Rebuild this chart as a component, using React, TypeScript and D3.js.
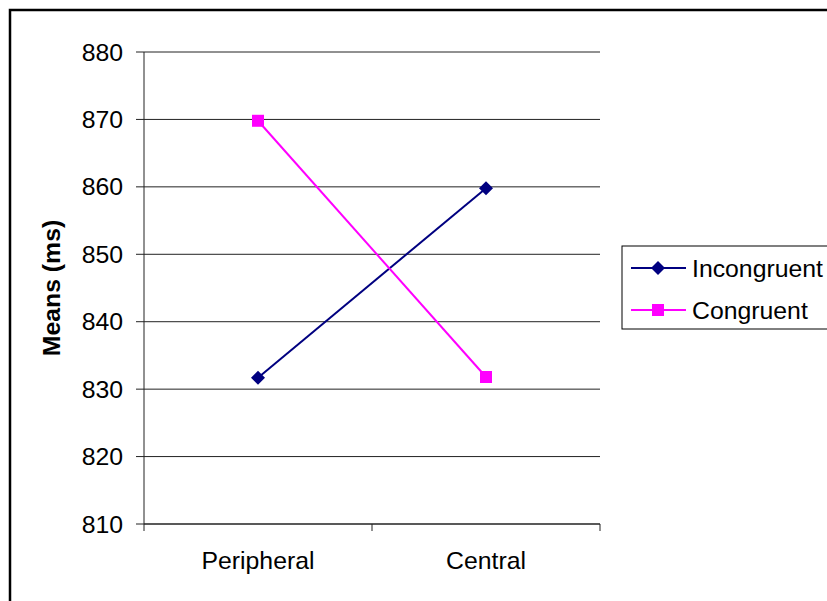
import React from "react";
import * as d3 from "d3";

const categories = ["Peripheral", "Central"];
const incongruent = [831.7, 859.8];
const congruent = [869.8, 831.8];
const yTicks = [810, 820, 830, 840, 850, 860, 870, 880];
const seriesNames = ["Incongruent", "Congruent"];

export default function App() {
  const W = 827, H = 601;
  const left = 144, right = 600, top = 52, bottom = 524;
  const x = d3.scaleBand<string>().domain(categories).range([left, right]);
  const y = d3.scaleLinear().domain([810, 880]).range([bottom, top]);
  const cx = (c: string) => (x(c) as number) + x.bandwidth() / 2;
  const line = d3.line<number>().x((_, i) => cx(categories[i])).y((v) => y(v));
  const font = "Liberation Sans, Arial, sans-serif";
  const fs = 24.8;
  const diamond = (px: number, py: number, r: number) =>
    `M${px},${py - r}L${px + r},${py}L${px},${py + r}L${px - r},${py}Z`;
  const bounds = [left, ...categories.map((c) => (x(c) as number) + x.bandwidth())];
  return (
    <svg width={W} height={H} style={{ position: "absolute", left: 0, top: 0, background: "#fff" }} fontFamily={font}>
      <rect x={10} y={10} width={W + 20} height={H + 20} fill="#fff" stroke="#000" strokeWidth={2.5} />
      {yTicks.map((t) => (
        <g key={t}>
          {t !== 810 && <line x1={left} x2={right} y1={y(t)} y2={y(t)} stroke="#222" strokeWidth={1} />}
          <line x1={left - 8} x2={left} y1={y(t)} y2={y(t)} stroke="#222" strokeWidth={1} />
          <text x={123} y={y(t)} textAnchor="end" dominantBaseline="central" fontSize={fs}>{t}</text>
        </g>
      ))}
      <line x1={left} x2={left} y1={top} y2={bottom} stroke="#222" strokeWidth={1} />
      <line x1={left} x2={right} y1={bottom} y2={bottom} stroke="#222" strokeWidth={1.5} />
      {bounds.map((b, i) => (
        <line key={i} x1={b} x2={b} y1={bottom} y2={bottom + 7} stroke="#222" strokeWidth={1} />
      ))}
      {categories.map((c) => (
        <text key={c} x={cx(c)} y={569} textAnchor="middle" fontSize={fs}>{c}</text>
      ))}
      <text transform={`translate(60,${(top + bottom) / 2}) rotate(-90)`} textAnchor="middle" fontSize={fs} fontWeight="bold">Means (ms)</text>
      <path d={line(incongruent) as string} fill="none" stroke="#000080" strokeWidth={2} />
      <path d={line(congruent) as string} fill="none" stroke="#FF00FF" strokeWidth={2} />
      {incongruent.map((v, i) => (
        <path key={i} d={diamond(cx(categories[i]), y(v), 7)} fill="#000080" />
      ))}
      {congruent.map((v, i) => (
        <rect key={i} x={cx(categories[i]) - 6} y={y(v) - 6} width={12} height={12} fill="#FF00FF" />
      ))}
      <rect x={622} y={246} width={210} height={83} fill="#fff" stroke="#000" strokeWidth={1} />
      {seriesNames.map((n, i) => {
        const ly = 268 + i * 42;
        return (
          <g key={n}>
            <line x1={631} x2={686} y1={ly} y2={ly} stroke={i === 0 ? "#000080" : "#FF00FF"} strokeWidth={2} />
            {i === 0 ? (
              <path d={diamond(658, ly, 7)} fill="#000080" />
            ) : (
              <rect x={652} y={ly - 6} width={12} height={12} fill="#FF00FF" />
            )}
            <text x={692} y={ly} dominantBaseline="central" fontSize={fs}>{n}</text>
          </g>
        );
      })}
    </svg>
  );
}
